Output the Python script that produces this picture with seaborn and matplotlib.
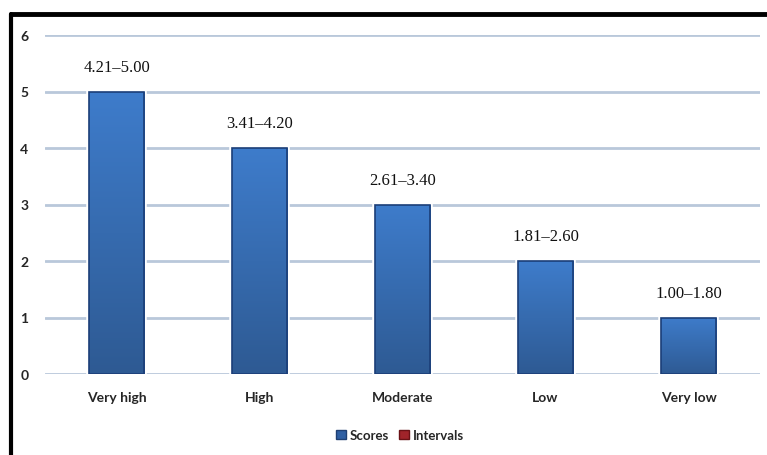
import numpy as np
import pandas as pd
import matplotlib
matplotlib.use("Agg")
import matplotlib.pyplot as plt
from matplotlib.patches import Patch, Rectangle
from matplotlib.lines import Line2D
from matplotlib.colors import LinearSegmentedColormap
import seaborn as sns

categories = ["Very high", "High", "Moderate", "Low", "Very low"]
scores = [5, 4, 3, 2, 1]
intervals = ["4.21\u20135.00", "3.41\u20134.20", "2.61\u20133.40", "1.81\u20132.60", "1.00\u20131.80"]
y_ticks = [0, 1, 2, 3, 4, 5, 6]

df = pd.DataFrame({"category": categories, "score": scores, "interval": intervals})

sns.set_theme(style="white")
plt.rcParams["font.family"] = ["Lato", "DejaVu Sans"]

fig = plt.figure(figsize=(7.67, 4.56), dpi=100)
ax = fig.add_axes([45 / 767, 1 - 375 / 456, 715 / 767, 339 / 456])

sns.barplot(data=df, x="category", y="score", ax=ax, color="#3A77C4",
            width=0.39, edgecolor="#1B3E78", linewidth=1.2, zorder=3)

cmap = LinearSegmentedColormap.from_list("g", ["#2E5A93", "#3E7CCB"])
grad = np.linspace(0, 1, 256).reshape(-1, 1)
for p in list(ax.patches):
    x0, y0 = p.get_x(), p.get_y()
    w, h = p.get_width(), p.get_height()
    halo = Rectangle((x0, y0), w, h, facecolor="none", edgecolor="white",
                     linewidth=4, zorder=3.2)
    ax.add_patch(halo)
    im = ax.imshow(grad, cmap=cmap, aspect="auto", origin="lower",
                   extent=[x0, x0 + w, y0, y0 + h], zorder=3.5)
    im.set_clip_path(p)
    p.set_facecolor("none")
    p.set_zorder(4)

for i, (s, lab) in enumerate(zip(scores, intervals)):
    ax.text(i, s + 0.3, lab, ha="center", va="bottom", fontsize=12,
            family="Liberation Serif", color="#111111")

ax.set_xlim(-0.5, len(categories) - 0.5)
ax.set_ylim(0, 6)
ax.set_yticks(y_ticks)
ax.set_yticklabels([str(t) for t in y_ticks], fontweight="bold", fontsize=10)
ax.tick_params(axis="y", length=0, pad=12)
ax.tick_params(axis="x", length=0, pad=12)
for lbl in ax.get_xticklabels():
    lbl.set_fontweight("bold")
    lbl.set_fontsize(10)
ax.set_xlabel("")
ax.set_ylabel("")
for sp in ax.spines.values():
    sp.set_visible(False)
ax.yaxis.grid(True, color="#B9C8DA", linewidth=2, zorder=0)
ax.set_axisbelow(True)

handles = [Patch(facecolor="#2F5FA3", edgecolor="#1F3F73", label="Scores"),
           Patch(facecolor="#A0242A", edgecolor="#6A1216", label="Intervals")]
fig.legend(handles=handles, loc="center", bbox_to_anchor=(400 / 767, 1 - 436 / 456),
           ncol=2, frameon=False, handlelength=0.7, handleheight=0.7,
           handletextpad=0.3, columnspacing=0.8, prop={"weight": "bold", "size": 9.5})

fig.add_artist(Line2D([11 / 767, 1.0], [1 - 15 / 456, 1 - 15 / 456], color="black",
                      linewidth=3.5, transform=fig.transFigure))
fig.add_artist(Line2D([11 / 767, 11 / 767], [0, 1 - 15 / 456], color="black",
                      linewidth=3, transform=fig.transFigure))

fig.savefig("out.png", dpi=100, facecolor="white")
